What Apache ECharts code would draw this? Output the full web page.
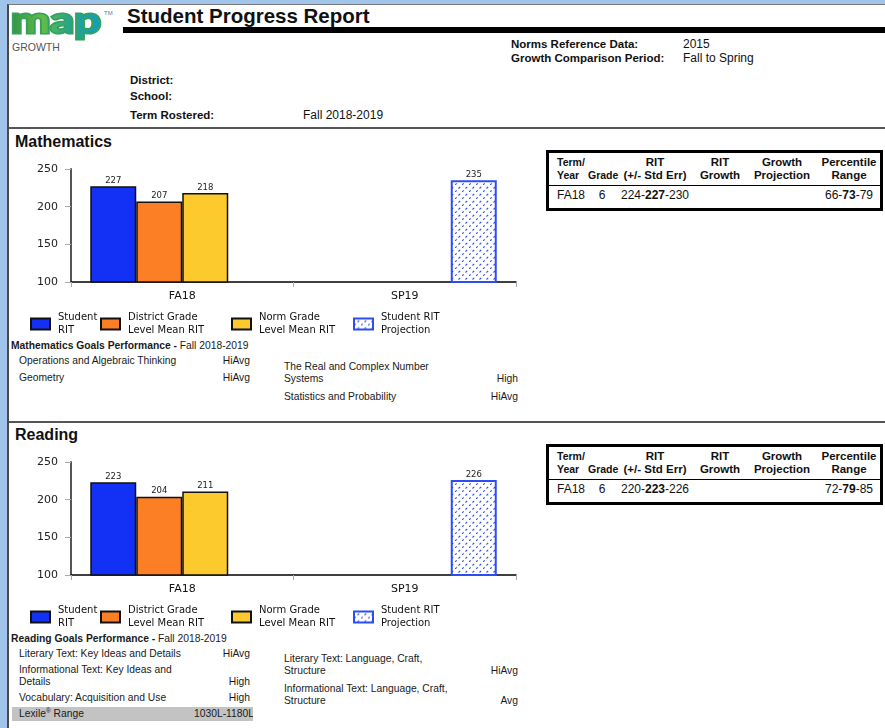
<!DOCTYPE html>
<html>
<head>
<meta charset="utf-8">
<script src="https://cdn.jsdelivr.net/npm/echarts@6/dist/echarts.min.js"></script>
<style>
  body { margin: 0; width: 885px; height: 728px; overflow: hidden; position: relative;
         background: #a1c5ea; font-family: 'Liberation Sans', Arial, sans-serif; color: #111; }
  .page { position: absolute; left: 7px; top: 4px; right: -10px; bottom: -10px; background: #fff;
          border-left: 2px solid #4a4a4a; border-top: 1px solid #7a7a7a; }
  .t { position: absolute; white-space: nowrap; }
  .rule { position: absolute; left: 9px; right: 0; height: 2px; background: #555; }
  .hl { font: bold 11.5px/14px 'Liberation Sans', Arial, sans-serif; }
  .hv { font: 12px/14px 'Liberation Sans', Arial, sans-serif; }
  .sec { font: bold 16px/18px 'Liberation Sans', Arial, sans-serif; left: 15px; }
  .g { font: 10.3px/12px 'Liberation Sans', Arial, sans-serif; color: #1a1a1a; }
  .gv { text-align: right; }
  .rt { position: absolute; left: 546px; width: 337px; height: 61px; border: 3px solid #000;
        box-sizing: border-box; background: #fff; }
  .rt table { width: 100%; border-collapse: collapse; table-layout: fixed; }
  .rt th { font: bold 11.5px/12.5px 'Liberation Sans', Arial, sans-serif; height: 28px; padding: 0 0 4px;
           vertical-align: bottom; text-align: center; border-bottom: 1px solid #000; white-space: nowrap; }
  .rt td { font: 12px/19px 'Liberation Sans', Arial, sans-serif; padding: 0; text-align: center; }
  .rt .first { text-align: left; padding-left: 8px; }
  .rt th.small { font-size: 10.5px; }
  .chart { position: absolute; left: 0; width: 540px; height: 190px; }
  .logo { position: absolute; left: 11px; top: 2px; font: bold 47px/47px Lato, sans-serif;
          transform: scaleY(0.76); transform-origin: 0 0; }
  .logo.back { color: #35a060; -webkit-text-stroke: 4px #35a060; }
  .logo.front { background: linear-gradient(90deg, #2f9446 0%, #62bd46 35%, #27a58a 65%, #139fb2 100%);
                -webkit-background-clip: text; background-clip: text; color: transparent; }
</style>
</head>
<body>
<div class="page"></div>

<div class="logo back">map</div>
<div class="logo front">map</div>
<div class="t" style="left:104px;top:9px;font:6px/8px 'Liberation Sans',Arial;color:#777">TM</div>
<div class="t" style="left:12px;top:41px;font:10.5px/13px 'Liberation Sans',Arial;color:#555">GROWTH</div>

<div class="t" style="left:127px;top:4px;font:bold 20.5px/24px 'Liberation Sans',Arial">Student Progress Report</div>
<div style="position:absolute;left:123px;top:27px;right:0;height:6px;background:#000"></div>

<div class="t hl" style="left:511px;top:37px">Norms Reference Data:</div>
<div class="t hv" style="left:683px;top:37px">2015</div>
<div class="t hl" style="left:511px;top:51px">Growth Comparison Period:</div>
<div class="t hv" style="left:683px;top:51px">Fall to Spring</div>

<div class="t hl" style="left:130px;top:73px">District:</div>
<div class="t hl" style="left:130px;top:89px">School:</div>
<div class="t hl" style="left:130px;top:108px">Term Rostered:</div>
<div class="t hv" style="left:303px;top:108px">Fall 2018-2019</div>

<div class="rule" style="top:127px"></div>

<!-- Mathematics -->
<div class="t sec" style="top:133px">Mathematics</div>
<div class="rt" style="top:150px">
  <table>
    <colgroup><col style="width:39px"><col style="width:28px"><col style="width:78px"><col style="width:52px"><col style="width:72px"><col style="width:62px"></colgroup>
    <tr><th class="first small">Term/<br>Year</th><th class="small">Grade</th><th>RIT<br>(+/- Std Err)</th><th>RIT<br>Growth</th><th>Growth<br>Projection</th><th>Percentile<br>Range</th></tr>
    <tr><td class="first">FA18</td><td>6</td><td>224-<b>227</b>-230</td><td></td><td></td><td>66-<b>73</b>-79</td></tr>
  </table>
</div>
<div id="mathChart" class="chart" style="top:150px"></div>

<div class="t g" style="left:11px;top:340px"><b>Mathematics Goals Performance -</b> Fall 2018-2019</div>
<div class="t g" style="left:19px;top:355px">Operations and Algebraic Thinking</div>
<div class="t g gv" style="right:635px;top:355px">HiAvg</div>
<div class="t g" style="left:19px;top:372px">Geometry</div>
<div class="t g gv" style="right:635px;top:372px">HiAvg</div>
<div class="t g" style="left:284px;top:361px">The Real and Complex Number<br>Systems</div>
<div class="t g gv" style="right:367px;top:373px">High</div>
<div class="t g" style="left:284px;top:391px">Statistics and Probability</div>
<div class="t g gv" style="right:367px;top:391px">HiAvg</div>

<div class="rule" style="top:421px"></div>

<!-- Reading -->
<div class="t sec" style="top:426px">Reading</div>
<div class="rt" style="top:444px">
  <table>
    <colgroup><col style="width:39px"><col style="width:28px"><col style="width:78px"><col style="width:52px"><col style="width:72px"><col style="width:62px"></colgroup>
    <tr><th class="first small">Term/<br>Year</th><th class="small">Grade</th><th>RIT<br>(+/- Std Err)</th><th>RIT<br>Growth</th><th>Growth<br>Projection</th><th>Percentile<br>Range</th></tr>
    <tr><td class="first">FA18</td><td>6</td><td>220-<b>223</b>-226</td><td></td><td></td><td>72-<b>79</b>-85</td></tr>
  </table>
</div>
<div id="readChart" class="chart" style="top:443px"></div>

<div class="t g" style="left:11px;top:633px"><b>Reading Goals Performance -</b> Fall 2018-2019</div>
<div class="t g" style="left:19px;top:648px">Literary Text: Key Ideas and Details</div>
<div class="t g gv" style="right:635px;top:648px">HiAvg</div>
<div class="t g" style="left:19px;top:664px">Informational Text: Key Ideas and<br>Details</div>
<div class="t g gv" style="right:635px;top:676px">High</div>
<div class="t g" style="left:19px;top:692px">Vocabulary: Acquisition and Use</div>
<div class="t g gv" style="right:635px;top:692px">High</div>
<div style="position:absolute;left:12px;top:707px;width:241px;height:14px;background:#c3c3c3;overflow:hidden">
  <div class="t g" style="left:7px;top:1px">Lexile<span style="font-size:6.5px;line-height:0;position:relative;top:-4px">®</span> Range</div>
  <div class="t g gv" style="right:-1px;top:1px">1030L-1180L</div>
</div>
<div class="t g" style="left:284px;top:653px">Literary Text: Language, Craft,<br>Structure</div>
<div class="t g gv" style="right:367px;top:665px">HiAvg</div>
<div class="t g" style="left:284px;top:683px">Informational Text: Language, Craft,<br>Structure</div>
<div class="t g gv" style="right:367px;top:695px">Avg</div>

<script>
// 数据
const terms = ['FA18', 'SP19']
const yTicks = [100, 150, 200, 250]
const seriesNames = ['Student RIT', 'District Grade Level Mean RIT', 'Norm Grade Level Mean RIT', 'Student RIT Projection']
const legendLabels = ['Student\nRIT', 'District Grade\nLevel Mean RIT', 'Norm Grade\nLevel Mean RIT', 'Student RIT\nProjection']

const mathStudent = [227, null]
const mathDistrict = [207, null]
const mathNorm = [218, null]
const mathProjection = [null, 235]

const readStudent = [223, null]
const readDistrict = [204, null]
const readNorm = [211, null]
const readProjection = [null, 226]

const barColors = ['#1330f5', '#fc7f26', '#fdca2e']
const legendLefts = [30, 100, 231, 353]

// 斜向虚线填充（预测柱）
const makeHatch = () => {
  const size = 7
  const c = document.createElement('canvas')
  c.width = size
  c.height = size
  const ctx = c.getContext('2d')
  ctx.fillStyle = '#fff'
  ctx.fillRect(0, 0, size, size)
  ctx.strokeStyle = '#2f4ff0'
  ctx.lineWidth = 1.1
  ctx.beginPath()
  ;[0, 3.5].forEach((d) => {
    ctx.moveTo(d, size - d)
    ctx.lineTo(d + 1.7, size - d - 1.7)
  })
  ctx.stroke()
  return c
}
const hatch = { image: makeHatch(), repeat: 'repeat' }

const buildOption = (dataSets) => ({
  animation: false,
  textStyle: { fontFamily: 'DejaVu Sans' },
  grid: { left: 71, top: 19, width: 445, height: 113 },
  legend: legendLefts.map((left, i) => ({
    data: [seriesNames[i]],
    left,
    top: 161,
    padding: 0,
    icon: 'rect',
    itemWidth: 19,
    itemHeight: 11,
    selectedMode: false,
    formatter: (name) => legendLabels[seriesNames.indexOf(name)],
    textStyle: { fontSize: 10, lineHeight: 13, color: '#111', padding: [0, 0, 0, 3] },
  })),
  xAxis: {
    type: 'category',
    data: terms,
    axisLine: { lineStyle: { color: '#000', width: 1.5 } },
    axisTick: { show: true, length: 5, lineStyle: { color: '#aaa' } },
    axisLabel: { fontSize: 11, color: '#111', margin: 9 },
  },
  yAxis: {
    type: 'value',
    min: yTicks[0],
    max: yTicks[yTicks.length - 1],
    interval: yTicks[1] - yTicks[0],
    axisLine: { show: true, lineStyle: { color: '#555', width: 2 } },
    axisTick: { show: true, length: 6, lineStyle: { color: '#aaa' } },
    splitLine: { show: false },
    axisLabel: { fontSize: 11, color: '#222', margin: 13 },
  },
  series: seriesNames.map((name, i) => ({
    name,
    type: 'bar',
    data: dataSets[i],
    barWidth: 46,
    barGap: '0%',
    itemStyle: i < 3
      ? { color: barColors[i], borderColor: '#111', borderWidth: 1.5 }
      : { color: hatch, borderColor: '#2d4cf2', borderWidth: 2 },
    label: { show: true, position: 'top', distance: 1, fontSize: 8.5, color: '#222' },
  })),
})

const mathChart = echarts.init(document.getElementById('mathChart'))
mathChart.setOption(buildOption([mathStudent, mathDistrict, mathNorm, mathProjection]))

const readChart = echarts.init(document.getElementById('readChart'))
readChart.setOption(buildOption([readStudent, readDistrict, readNorm, readProjection]))
</script>
</body>
</html>
